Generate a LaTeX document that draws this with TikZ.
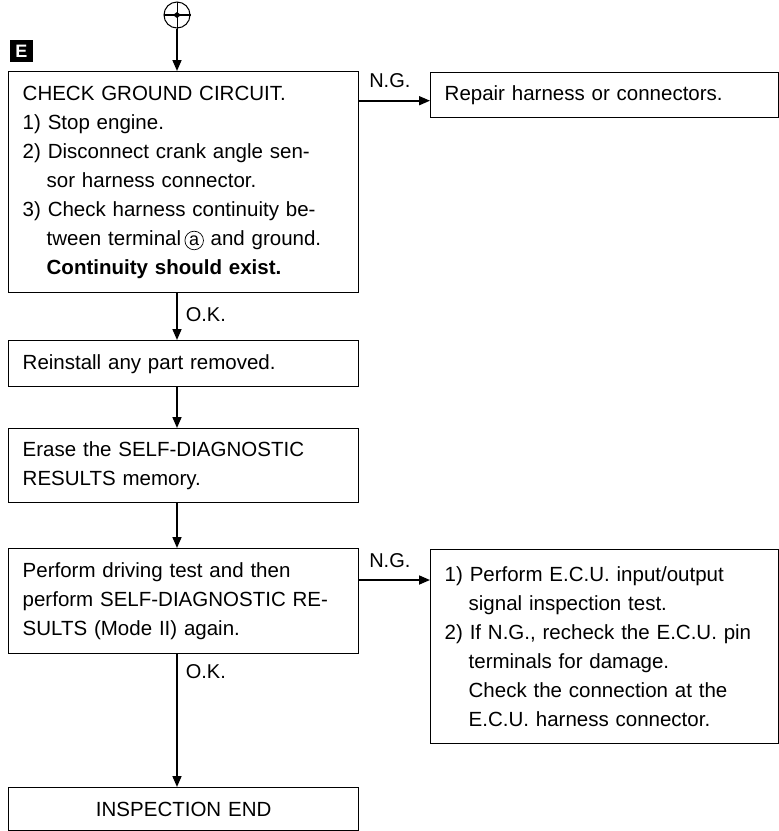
\documentclass[tikz,border=0pt]{standalone}
\usepackage{fontspec}
\setmainfont{Liberation Sans}
\usetikzlibrary{arrows.meta}

% small circled letter used for terminal names
\newcommand{\termmark}[1]{\tikz[baseline=(tm.base)]\node[draw, circle, inner sep=1.6pt,
  line width=0.7pt, text width=, minimum width=0pt, minimum height=0pt, anchor=center,
  font=\fontsize{18}{18}\selectfont](tm){#1};}
\newcommand{\hang}{\hspace*{1.17em}}

\begin{document}
\begin{tikzpicture}[x=1pt,y=-1pt,
  every node/.style={font=\fontsize{20.5}{29}\selectfont},
  stepbox/.style={draw, line width=1.4pt, anchor=north west, inner xsep=14pt,
                  inner ysep=0pt, align=left, text width=322pt, minimum width=350pt},
  sidebox/.style={stepbox, text width=320pt, minimum width=348pt},
  flow/.style={line width=1.7pt, -{Triangle[width=9pt,length=11pt]}},
  lab/.style={inner sep=0pt, font=\fontsize{20}{24}\selectfont}]
\useasboundingbox (0,0) rectangle (779,831);

% connector symbol at the top and the section tag
\node[circle, draw, line width=1pt, minimum size=26pt, inner sep=0pt] (c0) at (177,15) {};
\draw[line width=1.2pt] (c0.west) -- (c0.east);
\draw[line width=0.4pt] (c0.north) -- (c0.south);
\fill ([xshift=-4pt]c0.center) -- ([yshift=3pt]c0.center) -- ([xshift=4pt]c0.center)
      -- ([yshift=-3pt]c0.center) -- cycle;
\node[fill=black, text=white, minimum width=23pt, minimum height=22pt, inner sep=0pt,
      font=\fontsize{18}{18}\selectfont\bfseries] (tag) at (21.5,51) {E};

% main column
\node[stepbox, minimum height=221pt] (b1) at (8,71) {%
CHECK GROUND CIRCUIT.\\
1) Stop engine.\\
2) Disconnect crank angle sen-\\
\hang sor harness connector.\\
3) Check harness continuity be-\\
\hang tween terminal\,\termmark{a} and ground.\\
\hang\textbf{Continuity should exist.}};

\node[stepbox, minimum height=46pt] (b2) at (8,340) {Reinstall any part removed.};

\node[stepbox, minimum height=74pt] (b3) at (8,428) {%
Erase the SELF-DIAGNOSTIC\\
RESULTS memory.};

\node[stepbox, minimum height=105pt] (b4) at (8,548) {%
Perform driving test and then\\
perform SELF-DIAGNOSTIC RE-\\
SULTS (Mode II) again.};

\node[stepbox, minimum height=43pt, align=center] (b6) at (8,787) {INSPECTION END};

% right column
\node[sidebox, minimum height=45pt] (rep) at (430,72) {Repair harness or connectors.};

\node[sidebox, minimum height=194pt] (b5) at (430,549) {%
1) Perform E.C.U. input/output\\
\hang signal inspection test.\\
2) If N.G., recheck the E.C.U. pin\\
\hang terminals for damage.\\
\hang Check the connection at the\\
\hang E.C.U. harness connector.};

% connectors
\draw[flow] (c0.south) -- (c0 |- b1.north);
\draw[flow] (c0 |- b1.south) -- node[lab, anchor=west, pos=0.45, xshift=8pt] {O.K.} (c0 |- b2.north);
\draw[flow] (c0 |- b2.south) -- (c0 |- b3.north);
\draw[flow] (c0 |- b3.south) -- (c0 |- b4.north);
\draw[flow] (c0 |- b4.south) -- node[lab, anchor=west, pos=0.13, xshift=8pt] {O.K.} (c0 |- b6.north);

\draw[flow] ([yshift=-5.5pt]b1.east |- rep.west) --
  node[lab, anchor=south west, pos=0, xshift=9pt, yshift=12pt] {N.G.}
  ([yshift=-5.5pt]rep.west);
\draw[flow] ([yshift=-32pt]b4.north east) --
  node[lab, anchor=south west, pos=0, xshift=9pt, yshift=11pt] {N.G.}
  ([yshift=-32pt]b4.north east -| b5.west);
\end{tikzpicture}
\end{document}
